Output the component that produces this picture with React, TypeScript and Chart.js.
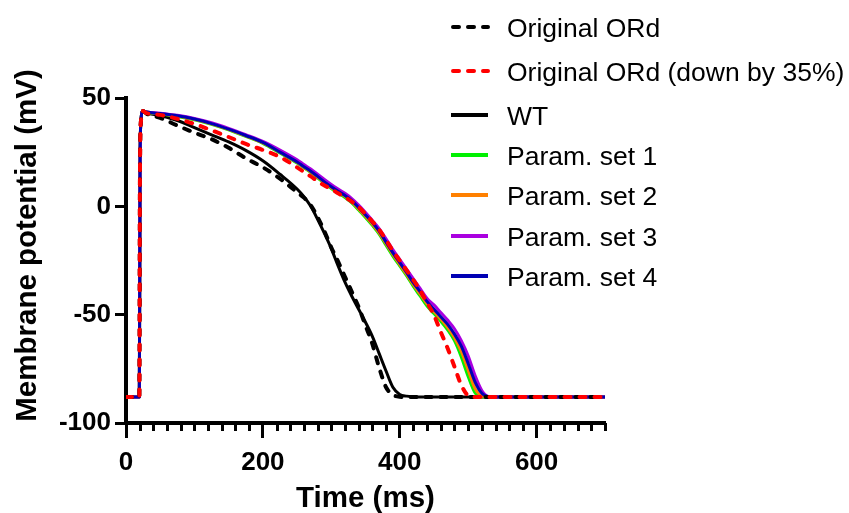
import React, { useEffect, useRef } from 'react';
import { Chart, registerables } from 'chart.js';

Chart.register(...registerables);

// ---- data ----
const timeMs = [0, 19.5, 20.5, 22, 24.5, 30, 50, 75, 100, 125, 150, 175, 200, 225, 250, 260, 270, 280, 290, 300, 310, 320, 330, 340, 350, 360, 370, 380, 390, 400, 410, 420, 430, 440, 450, 460, 470, 480, 490, 500, 510, 520, 530, 540, 700];

const originalORd = [-88, -88, 20, 40, 44, 42.8, 40.8, 37.3, 34, 31, 27, 22.2, 18, 12.8, 6.5, 4, 0.5, -5, -11.5, -19, -25.5, -32.5, -39.5, -46.5, -55, -63.5, -74.5, -83.5, -87, -87.9, -88, -88, -88, -88, -88, -88, -88, -88, -88, -88, -88, -88, -88, -88, -88];

const originalORdDown35 = [-88, -88, 20, 40, 44, 43, 42.2, 40.4, 38, 35.1, 32, 28.8, 26, 22.8, 18, 15.9, 13.8, 11.6, 9.6, 8, 6, 4.2, 2.2, -0.3, -3.5, -7, -10.7, -15.5, -20.5, -25, -29.5, -34, -38.8, -44.5, -50.2, -58, -65.5, -74, -82.5, -87.3, -88, -88, -88, -88, -88];

const wt = [-88, -88, 20, 40, 44, 43.2, 41.9, 39.6, 36.3, 33, 29.7, 25.8, 21, 14.8, 8, 4.5, 0, -6, -12.5, -19.5, -27.5, -35, -41.5, -47.5, -53.5, -60, -68, -76, -83.5, -86.8, -87.6, -87.9, -88, -88, -88, -88, -88, -88, -88, -88, -88, -88, -88, -88, -88];

const paramSet1 = [-88, -88, 20, 40, 44, 43.4, 42.6, 41.5, 40, 37.9, 35.3, 32.3, 29.1, 24.6, 20, 17.8, 15.6, 13.2, 10.6, 8.2, 6.1, 4.1, 1.6, -1.7, -5.2, -8.8, -12.8, -18, -23, -27.5, -32, -37, -41.5, -46, -49.5, -53, -57, -62, -69.5, -78.5, -86, -88, -88, -88, -88];

const paramSet2 = [-88, -88, 20, 40, 44, 43.5, 42.7, 41.7, 40.2, 38.1, 35.5, 32.5, 29.3, 25, 20.3, 18.1, 15.9, 13.5, 11, 8.6, 6.5, 4.6, 2.1, -1.2, -4.6, -8.2, -12.2, -17.2, -22.2, -26.8, -31.3, -36.2, -40.5, -45, -48.5, -52, -55.8, -60.5, -67, -75.5, -84, -87.5, -88, -88, -88];

const paramSet3 = [-88, -88, 20, 40, 44, 43.6, 43, 42, 40.6, 38.6, 36, 33.1, 30, 26, 21.5, 19.3, 17.2, 14.8, 12.4, 10.1, 8, 6, 3.6, 0.6, -2.8, -6.5, -10.3, -15, -20, -24.5, -29, -33.5, -38, -42.5, -45.5, -49, -52.5, -56.5, -62, -69, -78, -85, -87.8, -88, -88];

const paramSet4 = [-88, -88, 20, 40, 44, 43.5, 42.8, 41.8, 40.3, 38.2, 35.6, 32.7, 29.5, 25, 20.5, 18.3, 16.2, 13.8, 11.3, 9, 6.9, 5, 2.6, -0.6, -4, -7.5, -11.5, -16.5, -21.5, -26, -30.5, -35.3, -39.5, -44, -47.5, -51, -54.5, -59, -64.5, -72.5, -81, -86.3, -87.9, -88, -88];

const seriesLabels = ['Original ORd', 'Original ORd (down by 35%)', 'WT', 'Param. set 1', 'Param. set 2', 'Param. set 3', 'Param. set 4'];
const seriesValues = [originalORd, originalORdDown35, wt, paramSet1, paramSet2, paramSet3, paramSet4];
const seriesColors = ['#000000', '#ff0000', '#000000', '#00f000', '#ff8000', '#aa00e0', '#0000b4'];
const seriesDashed = [true, true, false, false, false, false, false];
const seriesOrder = [1, 0, 6, 5, 4, 3, 2];

const xTicksMajor = [0, 200, 400, 600];
const yTicks = [-100, -50, 0, 50];

const xTitle = 'Time (ms)';
const yTitle = 'Membrane potential (mV)';

const FONT = '"Liberation Sans", Arial, Helvetica, sans-serif';
const DASH = [6, 9];
const legendRowY = [27, 71, 115, 155, 195, 236, 276];

const overlayPlugin = {
  id: 'overlay',
  afterDraw(chart: any) {
    const ctx = chart.ctx as CanvasRenderingContext2D;
    const xs = chart.scales.x;
    const area = chart.chartArea;
    ctx.save();
    // minor x ticks
    ctx.strokeStyle = '#000';
    ctx.lineWidth = 3;
    ctx.lineCap = 'butt';
    xs.ticks.forEach((t: any) => {
      if (!xTicksMajor.includes(t.value)) {
        const px = Math.round(xs.getPixelForValue(t.value)) + 0.5;
        ctx.beginPath();
        ctx.moveTo(px, area.bottom);
        ctx.lineTo(px, area.bottom + 8);
        ctx.stroke();
      }
    });
    // axis titles
    ctx.fillStyle = '#000';
    ctx.font = `bold 29.5px ${FONT}`;
    ctx.textAlign = 'center';
    ctx.textBaseline = 'alphabetic';
    ctx.fillText(xTitle, (area.left + area.right) / 2, area.bottom + 84);
    ctx.save();
    ctx.translate(area.left - 90, (area.top + area.bottom) / 2 - 15);
    ctx.rotate(-Math.PI / 2);
    ctx.fillText(yTitle, 0, 0);
    ctx.restore();
    // legend
    ctx.textAlign = 'left';
    ctx.font = `26.5px ${FONT}`;
    chart.data.datasets.forEach((ds: any, i: number) => {
      const ry = legendRowY[i];
      ctx.strokeStyle = ds.borderColor;
      ctx.lineWidth = 4;
      ctx.lineCap = ds.borderDash && ds.borderDash.length ? 'round' : 'butt';
      ctx.setLineDash(ds.borderDash || []);
      ctx.beginPath();
      ctx.moveTo(ds.borderDash && ds.borderDash.length ? 453 : 451, ry);
      ctx.lineTo(488, ry);
      ctx.stroke();
      ctx.setLineDash([]);
      ctx.fillStyle = '#000';
      ctx.fillText(ds.label, 507, ry + 9.5);
    });
    ctx.restore();
  },
};

export default function App() {
  const canvasRef = useRef<HTMLCanvasElement | null>(null);

  useEffect(() => {
    const canvas = canvasRef.current;
    if (!canvas) return;
    const datasets = seriesLabels.map((label, i) => ({
      label,
      data: seriesValues[i].map((v, k) => ({ x: timeMs[k], y: v })),
      borderColor: seriesColors[i],
      backgroundColor: seriesColors[i],
      borderWidth: seriesDashed[i] ? 4 : 3,
      borderDash: seriesDashed[i] ? DASH : [],
      borderCapStyle: seriesDashed[i] ? 'round' : 'butt',
      borderJoinStyle: 'round',
      pointRadius: 0,
      fill: false,
      cubicInterpolationMode: 'monotone',
      order: seriesOrder[i],
    }));

    const chart = new Chart(canvas, {
      type: 'line',
      data: { datasets } as any,
      options: {
        animation: false,
        responsive: false,
        devicePixelRatio: 1,
        layout: { padding: { top: 98, right: 244, bottom: 0, left: 0 } },
        plugins: { legend: { display: false }, tooltip: { enabled: false } },
        scales: {
          x: {
            type: 'linear',
            min: 0,
            max: 700,
            afterFit: (s: any) => { s.height = 90; },
            border: { display: true, color: '#000', width: 4 },
            grid: {
              display: true,
              drawOnChartArea: false,
              drawTicks: true,
              tickLength: 15,
              tickWidth: 3,
              tickColor: (c: any) => (c.tick && xTicksMajor.includes(c.tick.value) ? '#000' : 'rgba(0,0,0,0)'),
            },
            ticks: {
              stepSize: 20,
              autoSkip: false,
              maxRotation: 0,
              maxTicksLimit: 100,
              padding: 9,
              color: '#000',
              font: { family: FONT, size: 26, weight: 'bold' },
              callback: (v: any) => (xTicksMajor.includes(Number(v)) ? String(v) : ''),
            },
          },
          y: {
            type: 'linear',
            min: -100,
            max: 50,
            afterFit: (s: any) => { s.width = 126; },
            afterBuildTicks: (s: any) => { s.ticks = yTicks.map((v) => ({ value: v })); },
            border: { display: true, color: '#000', width: 4 },
            grid: {
              display: true,
              drawOnChartArea: false,
              drawTicks: true,
              tickLength: 11,
              tickWidth: 3,
              tickColor: '#000',
            },
            ticks: {
              padding: 4,
              color: '#000',
              font: { family: FONT, size: 26, weight: 'bold' },
            },
          },
        },
      } as any,
      plugins: [overlayPlugin],
    });
    return () => chart.destroy();
  }, []);

  return (
    <div style={{ position: 'absolute', left: 0, top: 0, width: 849, height: 513, background: '#fff' }}>
      <canvas ref={canvasRef} width={849} height={513} style={{ display: 'block', width: 849, height: 513 }} />
    </div>
  );
}
